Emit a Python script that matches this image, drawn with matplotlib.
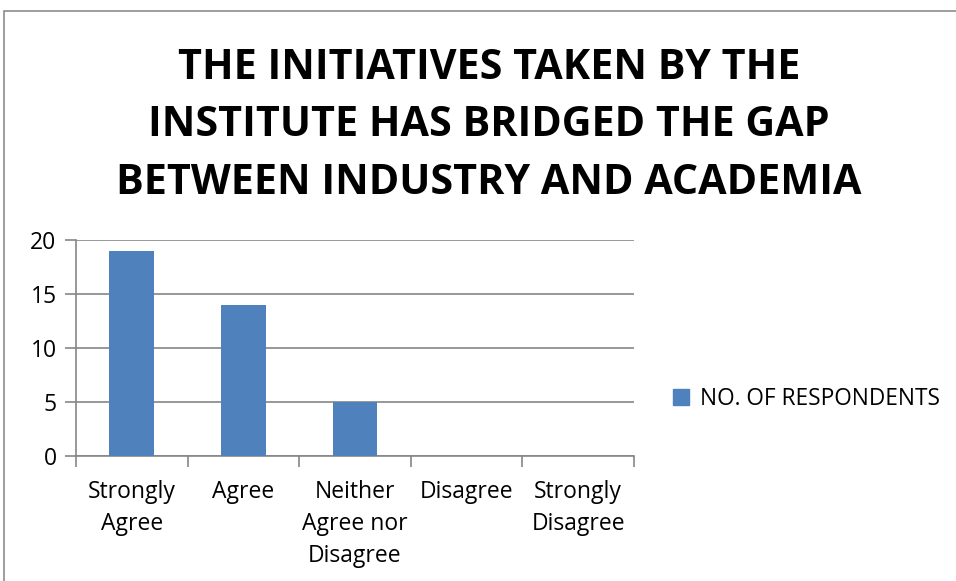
import matplotlib
matplotlib.use("Agg")
import matplotlib.pyplot as plt
from matplotlib.patches import Rectangle
from matplotlib.lines import Line2D

categories = ["Strongly\nAgree", "Agree", "Neither\nAgree nor\nDisagree", "Disagree", "Strongly\nDisagree"]
values = [19, 14, 5, 0, 0]
series_name = "NO. OF RESPONDENTS"
title = "THE INITIATIVES TAKEN BY THE\nINSTITUTE HAS BRIDGED THE GAP\nBETWEEN INDUSTRY AND ACADEMIA"
yticks = [0, 5, 10, 15, 20]

W, H = 956, 581
fig = plt.figure(figsize=(W / 100, H / 100), dpi=100)
plt.rcParams['font.family'] = ['Open Sans', 'DejaVu Sans']

# outer frame
fig.add_artist(Rectangle((4 / W, -0.01), 1.02, 1 - 11 / H + 0.01, transform=fig.transFigure,
                         fill=False, edgecolor='#8c8c8c', linewidth=1.2))

ax = fig.add_axes([76 / W, 1 - 456 / H, (634 - 76) / W, (456 - 240) / H])
x = list(range(len(categories)))
ax.bar(x, values, width=0.4, color='#4f81bd', zorder=3, label=series_name)
ax.set_xlim(-0.5, len(categories) - 0.5)
ax.set_ylim(0, 20)
ax.set_yticks(yticks)
ax.set_yticklabels([str(v) for v in yticks], fontsize=16.5)
ax.yaxis.grid(True, color='#868686', linewidth=1.2, zorder=0)
ax.tick_params(axis='y', length=8, color='#868686', width=1.2, pad=6)

ax.set_xticks([i - 0.5 for i in range(len(categories) + 1)])
ax.set_xticklabels([])
ax.tick_params(axis='x', which='major', length=8, color='#868686', width=1.2)
ax.set_xticks(x, minor=True)
ax.set_xticklabels(categories, minor=True, fontsize=16.5, linespacing=1.45, va='top')
ax.tick_params(axis='x', which='minor', length=0, pad=17)

for s in ['top', 'right']:
    ax.spines[s].set_visible(False)
for s in ['left', 'bottom']:
    ax.spines[s].set_color('#868686')
    ax.spines[s].set_linewidth(1.2)
ax.set_axisbelow(True)

fig.text(489 / W, 1 - 126 / H, title, ha='center', va='center', fontsize=29.7,
         fontweight='bold', linespacing=1.52)

handle = Line2D([], [], marker='s', linestyle='none', markersize=11, color='#4f81bd')
fig.legend([handle], [series_name], loc='center left', bbox_to_anchor=(655 / W, 1 - 399 / H),
           frameon=False, fontsize=16.3, handletextpad=0.1, handlelength=1.5, borderaxespad=0)

fig.savefig("out.png", dpi=100)
